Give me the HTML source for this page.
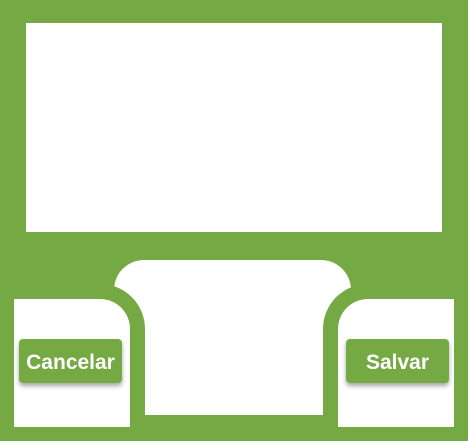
<!DOCTYPE html>
<html><head><meta charset="utf-8"><style>
html,body{margin:0;padding:0;overflow:hidden}
body{width:468px;height:441px;background:#74a943;position:relative;overflow:hidden;font-family:"Liberation Sans",sans-serif}
div{position:absolute;box-sizing:border-box}
.w{background:#fff}
.g{background:#74a943}
.btn{background:#74a943;color:#fff;font-weight:bold;font-size:21px;display:flex;align-items:center;justify-content:center;padding-top:3px;border-radius:4px;box-shadow:0 3px 5px rgba(0,0,0,0.35);cursor:pointer}
</style></head><body>
<div class="w" style="left:26px;top:23px;width:416px;height:209px"></div>
<div class="w" style="left:114px;top:260px;width:237px;height:155px;border-radius:30px 30px 0 0"></div>
<div class="g" style="left:0;top:284px;width:145px;height:157px;border-radius:0 45px 0 0"></div>
<div class="g" style="left:323px;top:284px;width:145px;height:157px;border-radius:45px 0 0 0"></div>
<div class="w" style="left:14px;top:299px;width:116px;height:128px;border-radius:0 30px 0 0"></div>
<div class="w" style="left:338px;top:299px;width:116px;height:128px;border-radius:30px 0 0 0"></div>
<div class="btn" style="left:19px;top:339px;width:103px;height:44px">Cancelar</div>
<div class="btn" style="left:346px;top:339px;width:103px;height:44px">Salvar</div>
</body></html>
